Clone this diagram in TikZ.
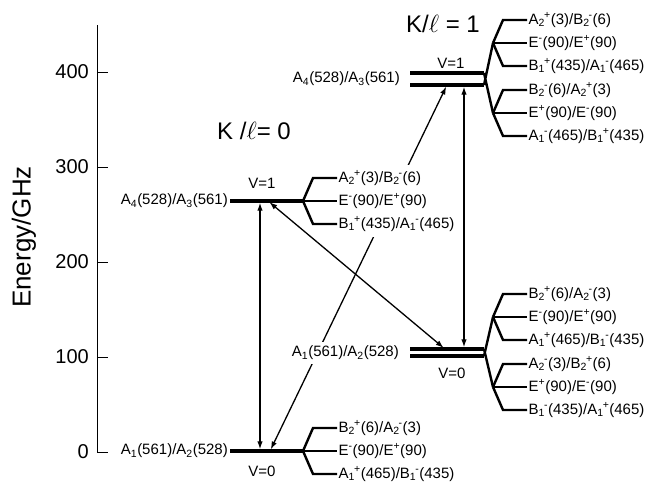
\documentclass[tikz,border=0pt]{standalone}
\usepackage{fontspec}
\setmainfont{Liberation Sans}
\usetikzlibrary{arrows.meta}

% sub- and superscript, set close together
\newcommand\sbsp[2]{\textsubscript{#1}\kern-0.06em\textsuperscript{#2}}
% three-way split of a level: name, vertex, upper/middle/lower label
\newcommand\fan[5]{%
  \draw[fork] (#2) -- ++(10,-23) -- ++(24,0) node[leaf] (#1a) {#3};
  \draw[fork] (#2) -- ++(34,0) node[leaf] (#1b) {#4};
  \draw[fork] (#2) -- ++(10,23) -- ++(24,0) node[leaf] (#1c) {#5};}

\begin{document}
\begin{tikzpicture}[x=1pt,y=-1pt,
    lvl/.style={line width=3.5pt},
    fork/.style={line width=2.4pt},
    trans/.style={line width=1.3pt,
      {Latex[length=8pt,width=5.5pt]}-{Latex[length=8pt,width=5.5pt]},
      shorten <=1.7pt,shorten >=1.7pt},
    lab/.style={font=\fontsize{15}{17}\selectfont,inner sep=1pt},
    state/.style={lab,anchor=east,fill=white,inner xsep=1pt,inner ysep=4pt},
    leaf/.style={lab,anchor=west,fill=white,inner xsep=0.5pt,inner ysep=5.5pt},
    tick/.style={font=\fontsize{20}{23}\selectfont,anchor=east,inner sep=0pt},
    kbig/.style={font=\fontsize{24}{27}\selectfont}]
  \useasboundingbox (0,0) rectangle (649,482);

  % energy axis
  \draw[line width=0.9pt] (97,25) -- (97,452) -- (108,452);
  \foreach \e in {100,200,300,400}
    \draw[line width=0.9pt] (97,{452-0.95*\e}) -- ++(11,0);
  \foreach \e in {0,100,...,400}
    \node[tick] (t\e) at (89,{452-0.95*\e}) {\e};
  \node[kbig,font=\fontsize{26}{29}\selectfont,rotate=90] (ylab) at (24,237) {Energy/GHz};

  % ends of the transitions
  \coordinate (g0a) at (260,451);
  \coordinate (g0b) at (270,451);
  \coordinate (g1a) at (260,201);
  \coordinate (g1b) at (268,201);
  \coordinate (e1a) at (447,85);
  \coordinate (e1b) at (464,85);
  \coordinate (e0a) at (445,349);
  \coordinate (e0b) at (464,349);

  \draw[trans] (g0a) -- (g1a);
  \draw[trans] (g1b) -- (e0a);
  \draw[trans] (g0b) -- (e1a);
  \draw[trans] (e1b) -- (e0b);

  % K/l = 0
  \draw[lvl] (230,451) -- (303,451);
  \draw[lvl] (230,201) -- (303,201);
  \node[state] (g0) at (229,451) {A\textsubscript{1}(561)/A\textsubscript{2}(528)};
  \node[state] (g1) at (229,201) {A\textsubscript{4}(528)/A\textsubscript{3}(561)};
  \node[lab] (g0v) at (262,471) {V=0};
  \node[lab] (g1v) at (262,183) {V=1};
  \fan{ga}{303,451}{B\sbsp{2}{+}(6)/A\sbsp{2}{-}(3)}
    {E\textsuperscript{-}(90)/E\textsuperscript{+}(90)}
    {A\sbsp{1}{+}(465)/B\sbsp{1}{-}(435)}
  \fan{gb}{303,201}{A\sbsp{2}{+}(3)/B\sbsp{2}{-}(6)}
    {E\textsuperscript{-}(90)/E\textsuperscript{+}(90)}
    {B\sbsp{1}{+}(435)/A\sbsp{1}{-}(465)}
  \node[kbig] (k0) at (254,131) {K /$\ell$= 0};

  % K/l = 1
  \draw[lvl] (410,73) -- (484,73) (410,85) -- (484,85);
  \draw[lvl] (410,349) -- (484,349) (410,356) -- (484,356);
  \draw[fork] (484,85) -- (493,43) (484,73) -- (493,113);
  \draw[fork] (484,356) -- (493,317) (484,349) -- (493,387);
  \node[state] (e1) at (401,79) {A\textsubscript{4}(528)/A\textsubscript{3}(561)};
  \node[state] (e0) at (400,353) {A\textsubscript{1}(561)/A\textsubscript{2}(528)};
  \node[lab] (e1v) at (451,63) {V=1};
  \node[lab] (e0v) at (452,373) {V=0};
  \fan{ea}{493,43}{A\sbsp{2}{+}(3)/B\sbsp{2}{-}(6)}
    {E\textsuperscript{-}(90)/E\textsuperscript{+}(90)}
    {B\sbsp{1}{+}(435)/A\sbsp{1}{-}(465)}
  \fan{eb}{493,113}{B\sbsp{2}{-}(6)/A\sbsp{2}{+}(3)}
    {E\textsuperscript{+}(90)/E\textsuperscript{-}(90)}
    {A\sbsp{1}{-}(465)/B\sbsp{1}{+}(435)}
  \fan{ec}{493,317}{B\sbsp{2}{+}(6)/A\sbsp{2}{-}(3)}
    {E\textsuperscript{-}(90)/E\textsuperscript{+}(90)}
    {A\sbsp{1}{+}(465)/B\sbsp{1}{-}(435)}
  \fan{ed}{493,387}{A\sbsp{2}{-}(3)/B\sbsp{2}{+}(6)}
    {E\textsuperscript{+}(90)/E\textsuperscript{-}(90)}
    {B\sbsp{1}{-}(435)/A\sbsp{1}{+}(465)}
  \node[kbig] (k1) at (443,24) {K/$\ell$ = 1};
\end{tikzpicture}
\end{document}
